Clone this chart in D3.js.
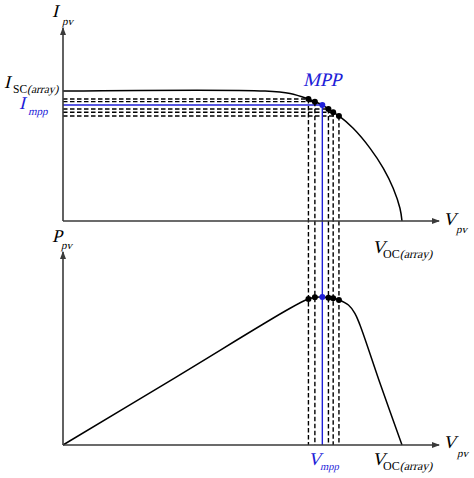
<!DOCTYPE html>
<html>
<head>
<meta charset="utf-8">
<script src="https://cdn.jsdelivr.net/npm/d3@7"></script>
<style>
  html, body { margin: 0; padding: 0; background: #fff; }
  svg { display: block; }
  text { font-family: "Liberation Serif", "Times New Roman", serif; }
</style>
</head>
<body>
<div id="chart"></div>
<script>
(function () {
  "use strict";

  // I-V curve (voltage and current normalised to Voc and Isc)
  const ivVoltage = [0, 0.596, 0.670, 0.724, 0.743, 0.765, 0.783, 0.797, 0.814, 0.856, 0.906, 0.945, 0.974, 0.994, 1.0];
  const ivCurrent = [1, 1, 0.981, 0.938, 0.918, 0.892, 0.862, 0.836, 0.808, 0.713, 0.559, 0.405, 0.252, 0.098, 0];

  // P-V curve (power normalised to Pmpp)
  const pvVoltage = [0, 0.335, 0.670, 0.724, 0.743, 0.765, 0.783, 0.797, 0.814, 0.842, 0.861, 0.876, 0.937, 1.0];
  const pvPower = [0, 0.461, 0.924, 0.986, 0.998, 1.0, 0.995, 0.991, 0.980, 0.946, 0.890, 0.811, 0.405, 0];

  // operating points scanned around the MPP
  const scanVoltage = [0.724, 0.743, 0.765, 0.783, 0.797, 0.814];
  const scanCurrent = [0.938, 0.918, 0.892, 0.862, 0.836, 0.808];
  const scanPower = [0.986, 0.998, 1.0, 0.995, 0.991, 0.980];
  const mppIndex = 2;

  const width = 474, height = 478;
  const blue = "#2020d8";
  const axisColor = "#3a3a3a";
  const slant = -14; // no serif italic face installed, so slant the upright one

  const x = d3.scaleLinear().domain([0, 1]).range([63, 402]);
  const yI = d3.scaleLinear().domain([0, 1]).range([221, 91]);
  const yP = d3.scaleLinear().domain([0, 1]).range([445, 297]);

  const svg = d3.select("#chart").append("svg")
    .attr("width", width)
    .attr("height", height)
    .attr("viewBox", `0 0 ${width} ${height}`);

  // arrow head for the axes
  svg.append("defs").append("marker")
    .attr("id", "arrow")
    .attr("viewBox", "0 0 8 6")
    .attr("refX", 7)
    .attr("refY", 3)
    .attr("markerWidth", 8)
    .attr("markerHeight", 6)
    .attr("markerUnits", "userSpaceOnUse")
    .attr("orient", "auto")
    .append("path")
    .attr("d", "M0,0 L8,3 L0,6 Z")
    .attr("fill", axisColor);

  const scan = scanVoltage.map((v, i) => ({
    v, i: scanCurrent[i], p: scanPower[i], mpp: i === mppIndex
  }));

  // Dashed guides: horizontal to the current axis, vertical down to the bottom axis
  const guides = svg.append("g").attr("class", "guides");
  guides.selectAll("line.h")
    .data(scan)
    .enter()
    .append("line")
    .attr("x1", x(0))
    .attr("x2", (d) => x(d.v))
    .attr("y1", (d) => yI(d.i))
    .attr("y2", (d) => yI(d.i))
    .attr("stroke", (d) => d.mpp ? blue : "#000")
    .attr("stroke-width", 1.4)
    .attr("stroke-dasharray", (d) => d.mpp ? null : "4.5,2.5");
  guides.selectAll("line.v")
    .data(scan)
    .enter()
    .append("line")
    .attr("x1", (d) => x(d.v))
    .attr("x2", (d) => x(d.v))
    .attr("y1", (d) => yI(d.i))
    .attr("y2", yP(0))
    .attr("stroke", (d) => d.mpp ? blue : "#000")
    .attr("stroke-width", 1.4)
    .attr("stroke-dasharray", (d) => d.mpp ? null : "4.5,2.5");

  // Curves
  const ivLine = d3.line()
    .x((d) => x(d[0]))
    .y((d) => yI(d[1]))
    .curve(d3.curveCatmullRom.alpha(0.5));
  const pvLine = d3.line()
    .x((d) => x(d[0]))
    .y((d) => yP(d[1]))
    .curve(d3.curveCatmullRom.alpha(0.5));

  svg.append("path")
    .datum(d3.zip(ivVoltage, ivCurrent))
    .attr("d", ivLine)
    .attr("fill", "none")
    .attr("stroke", "#000")
    .attr("stroke-width", 1.5);
  svg.append("path")
    .datum(d3.zip(pvVoltage, pvPower))
    .attr("d", pvLine)
    .attr("fill", "none")
    .attr("stroke", "#000")
    .attr("stroke-width", 1.5);

  // Axes
  const axes = [
    { x1: x(0), y1: yI(0), x2: 439, y2: yI(0) },
    { x1: x(0), y1: yI(0), x2: x(0), y2: 28 },
    { x1: x(0), y1: yP(0), x2: 439, y2: yP(0) },
    { x1: x(0), y1: yP(0), x2: x(0), y2: 252 },
  ];
  svg.append("g").classed("axes", true)
    .selectAll("line")
    .data(axes)
    .enter()
    .append("line")
    .attr("x1", (d) => d.x1)
    .attr("y1", (d) => d.y1)
    .attr("x2", (d) => d.x2)
    .attr("y2", (d) => d.y2)
    .attr("stroke", axisColor)
    .attr("stroke-width", 1.6)
    .attr("marker-end", "url(#arrow)");

  // Markers on both curves
  const markers = svg.append("g").classed("markers", true);
  markers.selectAll("circle.iv")
    .data(scan)
    .enter()
    .append("circle")
    .attr("cx", (d) => x(d.v))
    .attr("cy", (d) => yI(d.i))
    .attr("r", 3)
    .attr("fill", (d) => d.mpp ? blue : "#000");
  markers.selectAll("circle.pv")
    .data(scan)
    .enter()
    .append("circle")
    .attr("cx", (d) => x(d.v))
    .attr("cy", (d) => yP(d.p))
    .attr("r", 3)
    .attr("fill", (d) => d.mpp ? blue : "#000");

  // Labels: main letter + subscript (upright part, slanted part)
  const labels = [
    { main: "I", x: 52, y: 17, sub: "", subIt: "pv", sx: 62, sy: 25, fs: 11, color: "#000" },
    { main: "I", x: 4, y: 88, sub: "SC", subIt: "(array)", sx: 13, sy: 93, fs: 11.5, color: "#000" },
    { main: "I", x: 19, y: 109, sub: "", subIt: "mpp", sx: 28, sy: 115, fs: 11, color: blue },
    { main: "V", x: 443, y: 225, sub: "", subIt: "pv", sx: 456, sy: 233, fs: 11, color: "#000" },
    { main: "V", x: 372, y: 253, sub: "OC", subIt: "(array)", sx: 383, sy: 258, fs: 12, color: "#000" },
    { main: "P", x: 52, y: 242, sub: "", subIt: "pv", sx: 61, sy: 249, fs: 11, color: "#000" },
    { main: "V", x: 443, y: 448, sub: "", subIt: "pv", sx: 457, sy: 457, fs: 11, color: "#000" },
    { main: "V", x: 308, y: 465, sub: "", subIt: "mpp", sx: 320, sy: 470, fs: 10.5, color: blue },
    { main: "V", x: 372, y: 465, sub: "OC", subIt: "(array)", sx: 383, sy: 470, fs: 12, color: "#000" },
  ];

  const labelLayer = svg.append("g").classed("labels", true);
  labels.forEach((d) => {
    let g = labelLayer.append("g").attr("fill", d.color);
    g.append("text")
      .attr("transform", `translate(${d.x},${d.y}) skewX(${slant})`)
      .attr("font-size", 18)
      .text(d.main);
    let offset = 0;
    if (d.sub) {
      let up = g.append("text")
        .attr("x", d.sx)
        .attr("y", d.sy)
        .attr("font-size", d.fs)
        .text(d.sub);
      offset = up.node().getComputedTextLength();
    }
    g.append("text")
      .attr("transform", `translate(${d.sx + offset},${d.sy}) skewX(${slant})`)
      .attr("font-size", d.fs)
      .text(d.subIt);
  });

  svg.append("text")
    .attr("transform", `translate(303,86) skewX(${slant})`)
    .attr("font-size", 19)
    .attr("fill", blue)
    .text("MPP");
})();
</script>
</body>
</html>
